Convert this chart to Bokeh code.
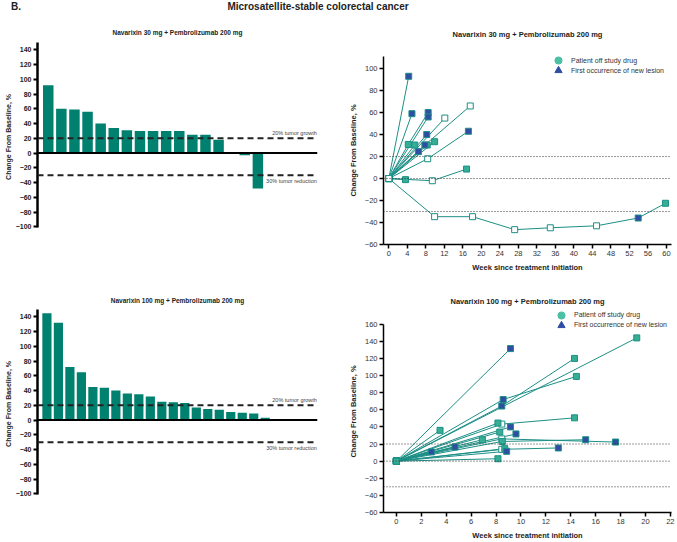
from bokeh.plotting import figure
from bokeh.models import (Div, Span, Label, Legend, LegendItem, FixedTicker,
                          Range1d, Title)
from bokeh.layouts import column, row
from bokeh.embed import file_html
from bokeh.resources import INLINE

FONT = "Liberation Sans"
BAR = "#00806e"
LINE = "#1c8f86"
TEAL = "#35ae94"
BLUE = "#2e4da3"
LEG_TEAL = "#4cc0a2"

# ---------------- data ----------------
main_title = "Microsatellite-stable colorectal cancer"
panel_letter = "B."

wf30_title = "Navarixin 30 mg + Pembrolizumab 200 mg"
wf30_values = [92, 60, 59, 56, 40, 34, 31, 30, 30, 30, 30, 25, 25, 18, 0, -3, -48]
wf100_title = "Navarixin 100 mg + Pembrolizumab 200 mg"
wf100_values = [145, 132, 72, 65, 45, 44, 40, 36, 35, 32, 25, 24, 23, 17, 15, 14, 11, 10, 9, 3]
wf_ticks = list(range(-100, 141, 20))
growth_thr = 20
reduction_thr = -30
growth_label = "20% tumor growth"
reduction_label = "30% tumor reduction"

sp30_title = "Navarixin 30 mg + Pembrolizumab 200 mg"
sp30_weeks = [
    [0, 4.3], [0, 5.0], [0, 4.2, 8.5], [0, 8.5], [0, 12.1], [0, 7.8, 17.6],
    [0, 8.4, 17.2], [0, 8.2], [0, 9.9], [0, 5.6], [0, 8.3], [0, 6.4], [0, 3.6],
    [0, 9.4, 16.8], [0, 9.9, 18.1, 27.2, 34.9, 44.9, 53.9, 59.8],
]
sp30_pct = [
    [0, 93], [0, 59], [0, 31, 60], [0, 56], [0, 55], [0, 30.5, 66],
    [0, 18, 43], [0, 40], [0, 33.5], [0, 30.5], [0, 30.5], [0, 24.5], [0, -1],
    [0, -2, 8.6], [0, -34.7, -34.7, -46.5, -44.8, -43, -35.9, -22.5],
]
sp30_status = ["oB", "oB", "oTB", "oB", "oo", "oBo", "ooB", "oB", "oT", "oT",
               "oT", "oB", "oT", "ooT", "ooooooBT"]
sp30_xticks = list(range(0, 61, 4))
sp30_yticks = list(range(-60, 101, 20))

sp100_title = "Navarixin 100 mg + Pembrolizumab 200 mg"
sp100_weeks = [
    [0, 9.16], [0, 8.46, 14.3], [0, 8.57, 14.45], [0, 19.3], [0, 8.46, 14.3],
    [0, 8.15], [0, 9.16], [0, 8.3], [0, 9.6], [0, 3.5], [0, 6.9],
    [0, 8.46, 17.6], [0, 8.5, 15.2], [0, 4.7], [0, 2.8], [0, 8.46, 13.0],
    [0, 8.7], [0, 8.85], [0, 8.15],
]
sp100_pct = [
    [0, 131.5], [0, 64.4, 120], [0, 72, 99], [0, 144], [0, 43.3, 50.6],
    [0, 44.5], [0, 40], [0, 34], [0, 31.8], [0, 36], [0, 25],
    [0, 26, 22.3], [0, 23, 25], [0, 16.5], [0, 10.8], [0, 13.8, 15.4],
    [0, 14.6], [0, 11.5], [0, 2.8],
]
sp100_status = ["TB", "TBT", "TBT", "TT", "ToT", "TT", "TB", "TT", "TB", "TT",
                "TT", "ToB", "TTB", "TB", "TB", "ToB", "TT", "TB", "TT"]
sp100_xticks = list(range(0, 23, 2))
sp100_yticks = list(range(-60, 161, 20))

ref_lines = [20, 0, -30]
x_label = "Week since treatment initiation"
y_label_sp = "Change From Baseline, %"
y_label_wf = "Change  From Baseline,  %"
legend_labels = ["Patient off study drug", "First occurrence of new lesion"]


def base_fig(width, height, xr, yr, bt, bb, bl, br, title, tsize, gap):
    p = figure(width=width, height=height, x_range=Range1d(*xr),
               y_range=Range1d(*yr), output_backend="svg",
               toolbar_location=None, min_border_left=bl, min_border_right=br,
               min_border_top=bt, min_border_bottom=bb, frame_align=False,
               title_location=None)
    # invisible spacer between frame and panel title
    p.add_layout(Title(text=" ", text_font_size="1px", standoff=gap,
                       text_font=FONT), "above")
    p.add_layout(Title(text=title, align="center", text_font=FONT,
                       text_font_size=tsize, text_font_style="bold",
                       text_color="#222222", standoff=2), "above")
    p.outline_line_color = None
    p.grid.visible = False
    return p


def waterfall(title, values, width, height, bt, bb, bl, br, gap):
    n = len(values)
    xs = list(range(n))
    p = base_fig(width, height, (-0.82, n + 3.55), (-101, 150), bt, bb, bl, br,
                 title, "6.5px", gap)
    p.vbar(x=xs, top=values, width=0.8, fill_color=BAR, line_color=None)
    p.add_layout(Span(location=0, dimension="width", line_color="black",
                      line_width=2))
    for thr in (growth_thr, reduction_thr):
        p.add_layout(Span(location=thr, dimension="width", line_color="#222222",
                          line_width=2, line_dash="6 4"))
    p.add_layout(Label(x=n + 3.5, y=growth_thr, text=growth_label,
                       text_align="right", text_baseline="bottom", y_offset=2,
                       text_font=FONT, text_font_size="5.5px",
                       text_color="#444444"))
    p.add_layout(Label(x=n + 3.5, y=reduction_thr, text=reduction_label,
                       text_align="right", text_baseline="top", y_offset=-3,
                       text_font=FONT, text_font_size="5.5px",
                       text_color="#444444"))
    p.xaxis.visible = False
    ax = p.yaxis[0]
    ax.ticker = FixedTicker(ticks=wf_ticks)
    ax.axis_line_width = 2.5
    ax.major_tick_line_width = 2
    ax.major_tick_out = 4
    ax.major_tick_in = 0
    ax.minor_tick_line_color = None
    ax.major_label_text_font = FONT
    ax.major_label_text_font_size = "7px"
    ax.major_label_text_font_style = "bold"
    ax.major_label_text_color = "#222222"
    ax.major_label_standoff = 2
    ax.axis_label = y_label_wf
    ax.axis_label_text_font = FONT
    ax.axis_label_text_font_size = "7px"
    ax.axis_label_text_font_style = "bold"
    ax.axis_label_text_color = "#222222"
    ax.axis_label_standoff = 1
    return p


def spider(title, weeks, pct, status, xr, yr, ybounds, xticks, yticks, width,
           height, bt, bb, bl, br, gap, leg_x, leg_centers):
    p = base_fig(width, height, xr, yr, bt, bb, bl, br, title, "7.5px", gap)
    for thr in ref_lines:
        p.add_layout(Span(location=thr, dimension="width", line_color="#333333",
                          line_width=1, line_dash="1 2"))
    groups = {"o": ([], []), "T": ([], []), "B": ([], [])}
    for w, v, s in zip(weeks, pct, status):
        p.line(w, v, line_color=LINE, line_width=1)
        for wi, vi, si in zip(w, v, s):
            groups[si][0].append(wi)
            groups[si][1].append(vi)
    p.scatter(groups["o"][0], groups["o"][1], marker="square", size=6,
              fill_color="white", line_color=LINE, line_width=1)
    p.scatter(groups["T"][0], groups["T"][1], marker="square", size=6,
              fill_color=TEAL, line_color=LINE, line_width=1)
    p.scatter(groups["B"][0], groups["B"][1], marker="square", size=6,
              fill_color=BLUE, line_color=LINE, line_width=1)
    nan = float("nan")
    r1 = p.scatter([nan], [nan], marker="circle", fill_color=LEG_TEAL,
                   line_color=LEG_TEAL)
    r2 = p.scatter([nan], [nan], marker="triangle", fill_color=BLUE,
                   line_color=BLUE)
    fh = height - bt - bb
    g = 18
    for lab, rend, cy in zip(legend_labels, (r1, r2), leg_centers):
        leg = Legend(items=[LegendItem(label=lab, renderers=[rend])],
                     location=(leg_x, fh - cy - g / 2),
                     border_line_color=None, background_fill_alpha=0,
                     padding=0, margin=0, spacing=0, glyph_width=g,
                     glyph_height=g, label_height=g, label_standoff=4,
                     label_text_font=FONT, label_text_font_size="7px",
                     label_text_color="#333333")
        p.add_layout(leg)
    for ax, ticks in ((p.xaxis[0], xticks), (p.yaxis[0], yticks)):
        ax.ticker = FixedTicker(ticks=ticks)
        ax.axis_line_width = 1.5
        ax.major_tick_line_width = 1.5
        ax.major_tick_out = 4
        ax.major_tick_in = 0
        ax.minor_tick_line_color = None
        ax.major_label_text_font = FONT
        ax.major_label_text_font_size = "7.5px"
        ax.major_label_text_color = "#333333"
        ax.major_label_standoff = 2
        ax.axis_label_text_font = FONT
        ax.axis_label_text_font_size = "7.5px"
        ax.axis_label_text_font_style = "bold"
        ax.axis_label_text_color = "#222222"
        ax.axis_label_standoff = 4
    p.yaxis[0].bounds = ybounds
    p.xaxis[0].axis_label = x_label
    p.yaxis[0].axis_label = y_label_sp
    return p


p1 = waterfall(wf30_title, wf30_values, 338, 252, 20, 47, 37, 21, 3)
p2 = spider(sp30_title, sp30_weeks, sp30_pct, sp30_status, (-1.15, 61.1),
            (-60, 111), (-60, 111), sp30_xticks, sp30_yticks, 339, 252, 34, 26,
            45, 6, 14, 166, (8, 18))
p3 = waterfall(wf100_title, wf100_values, 338, 268, 35, 48, 37, 21, 2)
p4 = spider(sp100_title, sp100_weeks, sp100_pct, sp100_status, (-1.04, 22.09),
            (-60, 176), (-60, 160), sp100_xticks, sp100_yticks, 339, 268, 36,
            27, 45, 6, 1, 169, (7.5, 17.5))

title_div = Div(
    text=('<div style="position:relative;width:677px;height:22px;'
          'font-family:\'Liberation Sans\';font-weight:bold;font-size:10px;'
          'color:#222;">'
          '<span style="position:absolute;left:11px;top:0px;">' + panel_letter +
          '</span><div style="position:absolute;left:0;width:636px;top:0px;'
          'text-align:center;">' + main_title + '</div></div>'),
    width=677, height=22, margin=0)

layout = column(title_div, row(p1, p2), row(p3, p4))

with open("out.html", "w") as f:
    f.write(file_html(layout, INLINE))
